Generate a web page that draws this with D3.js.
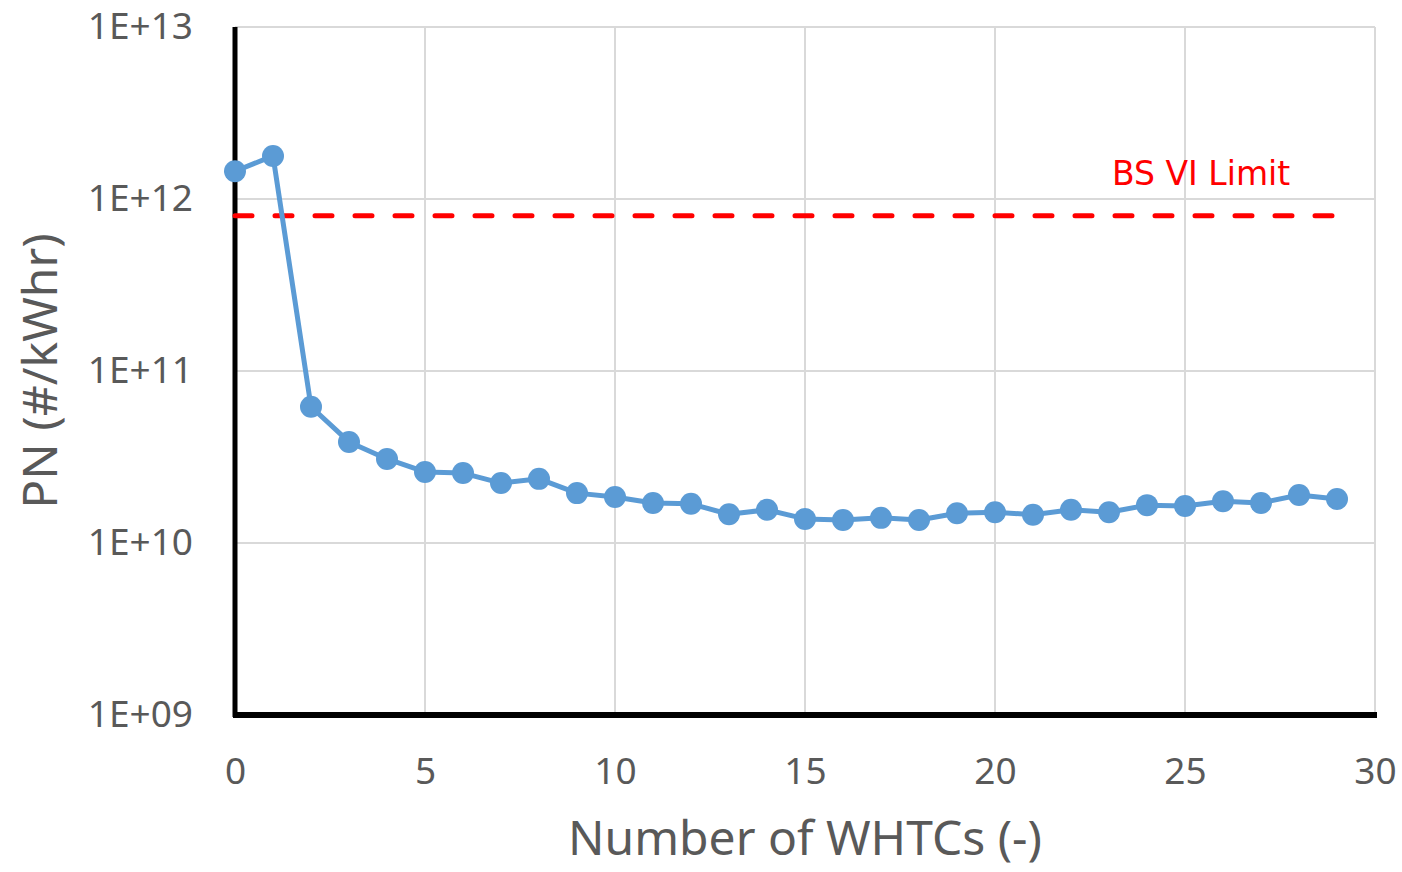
<!DOCTYPE html>
<html>
<head>
<meta charset="utf-8">
<script src="https://cdn.jsdelivr.net/npm/d3@7"></script>
<style>
    body { margin:0; background:#ffffff; }
    svg { display:block; }
</style>
</head>
<body>
<svg id="chart"></svg>
<script>
// number of WHTC cycles run
var cycles = [0,1,2,3,4,5,6,7,8,9,10,11,12,13,14,15,16,17,18,19,20,21,22,23,24,25,26,27,28,29];

// particle number per cycle (#/kWhr)
var pnValues = [1.45e12,1.78e12,6.2e10,3.87e10,3.08e10,2.59e10,2.55e10,2.23e10,2.36e10,1.95e10,
                1.85e10,1.71e10,1.69e10,1.47e10,1.56e10,1.38e10,1.36e10,1.40e10,1.36e10,1.49e10,
                1.51e10,1.46e10,1.56e10,1.51e10,1.66e10,1.64e10,1.75e10,1.71e10,1.90e10,1.80e10];

// BS VI limit line
var limitValue = 8e11;
var limitLabel = "BS VI Limit";

// tick values and labels
var xTicks = [0,5,10,15,20,25,30];
var yTicks = [1e9,1e10,1e11,1e12,1e13];
var yTickLabels = ["1E+09","1E+10","1E+11","1E+12","1E+13"];

var initGraph = function(target)
{
    //the size of the screen
    var screen = {width:1402, height:872};

    //how much space will be on each side of the graph
    var margins = {top:27, bottom:157, left:235, right:27};

    var graph =
    {
        width:screen.width-margins.left-margins.right,
        height:screen.height-margins.top-margins.bottom
    };

    var svg = d3.select(target)
        .attr("width",screen.width)
        .attr("height",screen.height);

    var xScale = d3.scaleLinear()
        .domain([0,30])
        .range([0,graph.width]);

    var yScale = d3.scaleLog()
        .domain([1e9,1e13])
        .range([graph.height,0]);

    var g = svg.append("g")
        .classed("graph",true)
        .attr("transform","translate("+margins.left+","+margins.top+")");

    // gridlines
    g.append("g")
        .selectAll("line.hgrid")
        .data(yTicks)
        .enter()
        .append("line")
        .attr("x1",0)
        .attr("x2",graph.width)
        .attr("y1",function(d){ return yScale(d); })
        .attr("y2",function(d){ return yScale(d); })
        .attr("stroke","#d9d9d9")
        .attr("stroke-width",2);

    g.append("g")
        .selectAll("line.vgrid")
        .data(xTicks)
        .enter()
        .append("line")
        .attr("x1",function(d){ return xScale(d); })
        .attr("x2",function(d){ return xScale(d); })
        .attr("y1",0)
        .attr("y2",graph.height)
        .attr("stroke","#d9d9d9")
        .attr("stroke-width",2);

    // axes
    var xAxis = d3.axisBottom(xScale)
        .tickValues(xTicks)
        .tickSize(0)
        .tickPadding(43);
    var yAxis = d3.axisLeft(yScale)
        .tickValues(yTicks)
        .tickSize(0)
        .tickPadding(42)
        .tickFormat(function(d,i){ return yTickLabels[i]; });

    var gx = g.append("g")
        .attr("transform","translate(0,"+graph.height+")")
        .call(xAxis);
    var gy = g.append("g")
        .call(yAxis);

    gx.select(".domain").remove();
    gy.select(".domain").remove();

    g.selectAll(".tick text")
        .attr("fill","#595959")
        .style("font-family","'Noto Sans', sans-serif")
        .style("font-size","37px");
    gx.selectAll(".tick text").attr("dy","0.71em");

    // black axis lines
    g.append("line")
        .attr("x1",0).attr("x2",0)
        .attr("y1",0).attr("y2",graph.height+2)
        .attr("stroke","#000").attr("stroke-width",5);
    g.append("line")
        .attr("x1",-2).attr("x2",graph.width+2)
        .attr("y1",graph.height).attr("y2",graph.height)
        .attr("stroke","#000").attr("stroke-width",6);

    // limit line
    g.append("line")
        .attr("x1",xScale(cycles[0]))
        .attr("x2",xScale(cycles[cycles.length-1]))
        .attr("y1",yScale(limitValue))
        .attr("y2",yScale(limitValue))
        .attr("stroke","#ff0000")
        .attr("stroke-width",5)
        .attr("stroke-linecap","round")
        .attr("stroke-dasharray","17,23");

    g.append("text")
        .attr("x",xScale(23.08))
        .attr("y",yScale(limitValue)-31)
        .attr("fill","#ff0000")
        .style("font-family","'DejaVu Sans', sans-serif")
        .style("font-size","33px")
        .text(limitLabel);

    // data line and points
    var points = cycles.map(function(c,i){ return {x:c, y:pnValues[i]}; });

    var line = d3.line()
        .x(function(d){ return xScale(d.x); })
        .y(function(d){ return yScale(d.y); });

    g.append("path")
        .datum(points)
        .attr("d",line)
        .attr("fill","none")
        .attr("stroke","#5b9bd5")
        .attr("stroke-width",5)
        .attr("stroke-linejoin","round");

    g.selectAll("circle")
        .data(points)
        .enter()
        .append("circle")
        .attr("cx",function(d){ return xScale(d.x); })
        .attr("cy",function(d){ return yScale(d.y); })
        .attr("r",11)
        .attr("fill","#5b9bd5");

    // axis titles
    svg.append("text")
        .attr("x",margins.left+graph.width/2)
        .attr("y",855)
        .attr("text-anchor","middle")
        .attr("fill","#595959")
        .style("font-family","'Noto Sans', sans-serif")
        .style("font-size","48px")
        .text("Number of WHTCs (-)");

    svg.append("text")
        .attr("transform","translate(57,"+(margins.top+graph.height/2)+") rotate(-90)")
        .attr("text-anchor","middle")
        .attr("fill","#595959")
        .style("font-family","'Noto Sans', sans-serif")
        .style("font-size","48px")
        .text("PN (#/kWhr)");
};

initGraph("#chart");
</script>
</body>
</html>
